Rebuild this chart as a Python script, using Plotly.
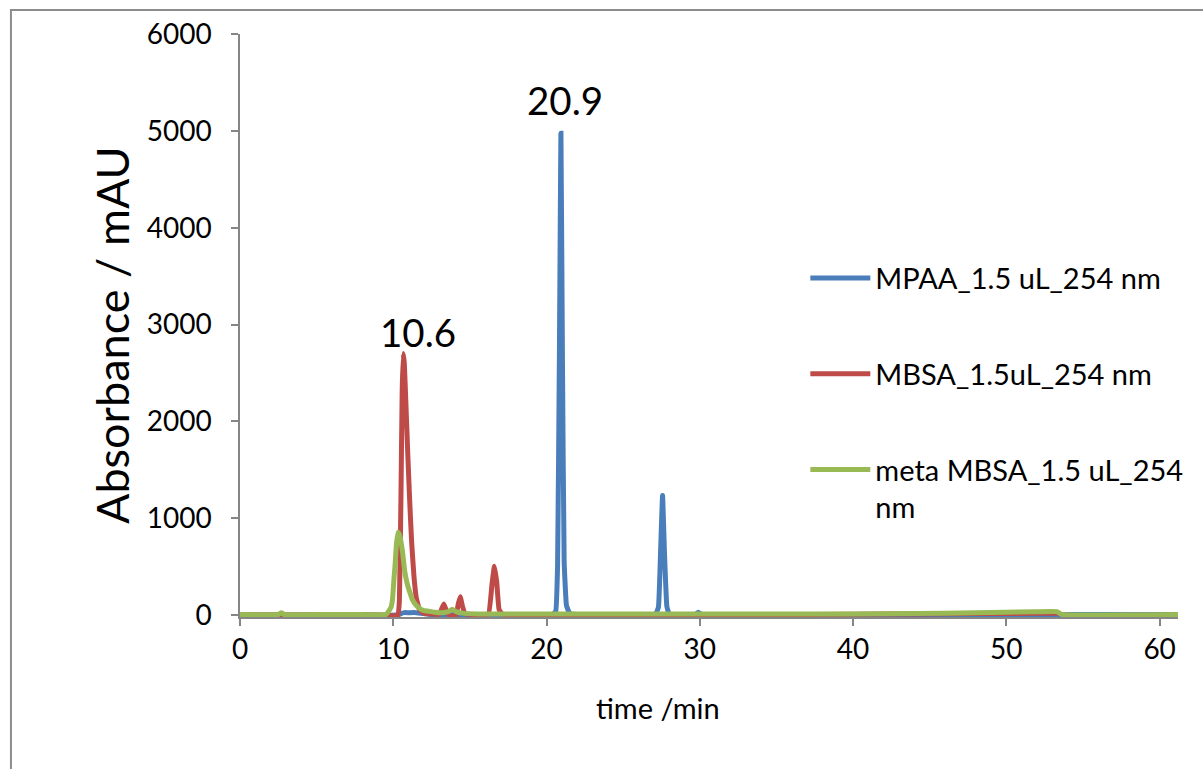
import plotly.graph_objects as go

# ---- data ----
mpaa_t = [0, 2, 5, 8, 10.3, 10.5, 10.7, 11.0, 11.5, 12.0, 12.5, 15, 18, 20.4, 20.6, 20.72,
          20.84, 20.94, 21.04, 21.15, 21.3, 21.5, 22, 25, 27.1, 27.3, 27.45, 27.57, 27.7,
          27.85, 28.0, 28.3, 29.7, 29.9, 30.1, 30.5, 35, 40, 45, 50, 55, 61.2]
mpaa_v = [0, 0, 0, 0, 0, 15, 25, 25, 25, 15, 5, 5, 5, 5, 40, 500,
          2700, 4975, 2600, 550, 100, 20, 5, 5, 5, 80, 700, 1235, 620,
          90, 10, 5, 5, 30, 5, 5, 5, 5, 5, 5, 5, 5]

mbsa_t = [0, 3, 6, 9, 10.3, 10.4, 10.5, 10.58, 10.65, 10.72, 10.82, 10.95, 11.08, 11.2,
          11.35, 11.5, 11.7, 11.95, 12.5, 13.0, 13.15, 13.3, 13.45, 13.6, 13.8, 14.1,
          14.25, 14.37, 14.5, 14.7, 15.5, 16.2, 16.45, 16.6, 16.75, 16.9, 17.1, 17.5,
          20, 25, 30, 35, 40, 44, 48, 52, 53.4]
mbsa_v = [0, 0, 0, 0, 0, 150, 1200, 2300, 2700, 2600, 2200, 1650, 1150, 750,
          400, 180, 60, 20, 10, 10, 60, 115, 50, 5, -15, 5,
          120, 190, 100, 10, 5, 5, 330, 505, 340, 60, 10, 5,
          5, 5, 5, 5, 8, 12, 15, 18, 18]

meta_t = [0, 2.5, 2.7, 2.9, 5, 8, 9.5, 9.65, 9.85, 9.95, 10.05, 10.12, 10.2, 10.31,
          10.4, 10.5, 10.6, 10.75, 10.9, 11.05, 11.25, 11.45, 11.7, 12.0, 12.3, 12.7,
          13.2, 13.6, 13.85, 14.1, 14.5, 15.5, 20, 30, 40, 44, 48, 52, 53.3, 53.6, 61.2]
meta_v = [5, 5, 25, 5, 5, 5, 5, 30, 80, 160, 380, 520, 720, 855,
          830, 760, 660, 450, 330, 250, 160, 110, 70, 45, 40, 30,
          25, 35, 60, 35, 20, 12, 10, 10, 12, 15, 25, 35, 35, 8, 5]

series_names = ["MPAA_1.5 uL_254 nm", "MBSA_1.5uL_254 nm", "meta MBSA_1.5 uL_254<br>nm"]
series_colors = ["#4A7EBB", "#BE4B48", "#98B954"]

peak_labels = ["10.6", "20.9"]
peak_label_t = [11.6, 21.2]
peak_label_v = [2925, 5320]

y_ticks = [0, 1000, 2000, 3000, 4000, 5000, 6000]
x_ticks = [0, 10, 20, 30, 40, 50, 60]

FONT = "Lato, Carlito, Calibri, sans-serif"
GRAY = "#868686"

fig = go.Figure()
for t, v, name, col in zip([mpaa_t, mbsa_t, meta_t], [mpaa_v, mbsa_v, meta_v],
                           series_names, series_colors):
    fig.add_trace(go.Scatter(x=t, y=v, mode="lines", name=name, legendgroup=name,
                             line=dict(color=col, width=5, shape="spline", smoothing=0.3)))

for lab, t, v in zip(peak_labels, peak_label_t, peak_label_v):
    fig.add_annotation(x=t, y=v, text=lab, showarrow=False, xanchor="center", yanchor="middle",
                       font=dict(family=FONT, size=38.5, color="#000000"))

# x-axis title (centered on chart area as in reference)
fig.add_annotation(xref="paper", yref="paper", x=0.4456, y=-0.155, text="time /min",
                   showarrow=False, xanchor="center", yanchor="middle",
                   font=dict(family=FONT, size=29, color="#000000"))

# y-axis title
fig.add_annotation(xref="paper", yref="paper", x=-0.1365, y=0.4837, text="Absorbance / mAU",
                   textangle=-90, showarrow=False, xanchor="center", yanchor="middle",
                   font=dict(family=FONT, size=45, color="#000000"))

# outer chart border
fig.add_shape(type="rect", xref="paper", yref="paper", x0=-0.2442, y0=-0.30, x1=1.04, y1=1.0413,
              line=dict(color="#8C8C8C", width=2), fillcolor="rgba(0,0,0,0)", layer="below")

fig.update_layout(
    width=1203, height=769,
    margin=dict(l=240, r=25, t=34, b=152),
    paper_bgcolor="white", plot_bgcolor="white",
    font=dict(family=FONT, size=28, color="#000000"),
    showlegend=True,
    legend=dict(x=0.6027, y=0.625, xanchor="left", yanchor="top",
                font=dict(family=FONT, size=29, color="#000000"),
                traceorder="grouped", tracegroupgap=55, valign="top",
                itemwidth=60, bgcolor="rgba(0,0,0,0)"),
    xaxis=dict(range=[0, 61.2], tickvals=x_ticks, showgrid=False, zeroline=False,
               showline=True, linecolor=GRAY, linewidth=1.5,
               ticks="outside", ticklen=7, tickcolor=GRAY, tickwidth=1.5,
               tickfont=dict(family=FONT, size=28, color="#000000")),
    yaxis=dict(range=[-20, 6000], tickvals=y_ticks, showgrid=False, zeroline=False,
               showline=True, linecolor=GRAY, linewidth=1.5,
               ticks="outside", ticklen=7, tickcolor=GRAY, tickwidth=1.5,
               ticklabelstandoff=14,
               tickfont=dict(family=FONT, size=28, color="#000000")),
)

fig.write_html("out.html")
